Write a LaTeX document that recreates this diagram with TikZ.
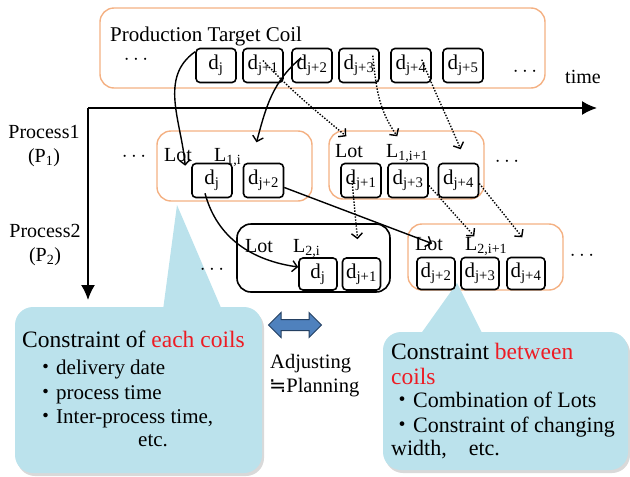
\documentclass[tikz,border=0pt]{standalone}
\usepackage{fontspec}
\setmainfont{Liberation Serif}
\newfontfamily\cjk{Noto Sans CJK JP}
\newfontfamily\symfont{DejaVu Sans}
\usetikzlibrary{arrows.meta,shapes.arrows,shadows}

\definecolor{lotorange}{RGB}{244,177,131}
\definecolor{callblue}{RGB}{187,226,236}
\definecolor{arrowblue}{RGB}{79,129,189}
\definecolor{arrowedge}{RGB}{36,64,98}
\definecolor{hired}{RGB}{237,28,36}

\tikzset{
  coil/.style={draw, line width=1.6pt, rounded corners=4pt, fill=white, inner sep=0pt,
    minimum width=40pt, minimum height=34pt, font=\fontsize{21}{21}\selectfont},
  smallcoil/.style={coil, minimum width=38pt, minimum height=32pt},
  lotbox/.style={draw=lotorange, line width=1.4pt, rounded corners=14pt, fill=white, inner sep=0pt},
  blacklot/.style={lotbox, draw=black, line width=1.6pt},
  flow/.style={-{Straight Barb[length=5pt,width=11pt]}, line width=1.4pt},
  dotflow/.style={flow, dash pattern=on 1.4pt off 1.6pt},
  axis/.style={-{Latex[length=15pt,width=14pt]}, line width=1.6pt},
  txt/.style={font=\fontsize{20}{24}\selectfont, inner sep=0pt},
  head/.style={font=\fontsize{23.5}{26}\selectfont, inner sep=0pt},
  item/.style={font=\fontsize{21}{24}\selectfont, inner sep=0pt},
  dots/.style={font=\fontsize{20}{20}\selectfont, inner sep=0pt},
  callout/.style={fill=callblue, rounded corners=18pt, inner sep=0pt,
    drop shadow={opacity=0.3, shadow xshift=2pt, shadow yshift=-3pt}}
}

\begin{document}
\begin{tikzpicture}[x=1pt, y=1pt]
  \useasboundingbox (0,0) rectangle (630,-477);

  % production target
  \node[lotbox, minimum width=445pt, minimum height=80pt] (target) at (322.5,-48) {};
  \node[txt, anchor=base west, font=\fontsize{21}{24}\selectfont] (targetlbl) at (110,-41) {Production Target Coil};

  % axes
  \coordinate (origin) at (88,-108);
  \coordinate (timeend) at (597,-108);
  \coordinate (procend) at (88,-300);
  \draw[axis] (origin) -- (timeend);
  \draw[axis] (origin) -- (procend);
  \node[txt, anchor=base west] (timelbl) at (565,-83) {time};
  \node[txt, align=center] (proc1) at (44,-146) {Process1\\(P\textsubscript{1})};
  \node[txt, align=center] (proc2) at (45,-245) {Process2\\(P\textsubscript{2})};

  % lots
  \node[lotbox, minimum width=155pt, minimum height=70pt] (lotA) at (234.5,-166) {};
  \node[lotbox, minimum width=155pt, minimum height=68pt] (lotB) at (406.5,-165) {};
  \node[blacklot, minimum width=153pt, minimum height=68pt] (lotC) at (313.5,-258) {};
  \node[lotbox, minimum width=155pt, minimum height=66pt] (lotD) at (485.5,-257) {};

  % callouts
  \node[callout, minimum width=247pt, minimum height=166pt] (callL) at (138.5,-390) {};
  \fill[callblue] (163,-310) -- (177,-205) -- (222,-310) -- cycle;
  \node[callout, minimum width=245pt, minimum height=138pt] (callR) at (505.5,-401) {};
  \fill[callblue] (420,-335) -- (457,-283) -- (483,-335) -- cycle;

  % coils
  \node[coil] (tj) at (216,-65.5) {d\textsubscript{j}};
  \node[coil] (tj1) at (263,-65.5) {d\textsubscript{j+1}};
  \node[coil] (tj2) at (312,-65.5) {d\textsubscript{j+2}};
  \node[coil] (tj3) at (359,-65.5) {d\textsubscript{j+3}};
  \node[coil] (tj4) at (411,-65.5) {d\textsubscript{j+4}};
  \node[coil] (tj5) at (463,-65.5) {d\textsubscript{j+5}};

  \node[coil] (pj) at (212,-180.5) {d\textsubscript{j}};
  \node[coil] (pj2) at (263.5,-180.5) {d\textsubscript{j+2}};
  \node[coil] (qj1) at (361,-180.5) {d\textsubscript{j+1}};
  \node[coil] (qj3) at (408,-180.5) {d\textsubscript{j+3}};
  \node[coil] (qj4) at (458.5,-180.5) {d\textsubscript{j+4}};

  \node[smallcoil] (rj) at (318,-274) {d\textsubscript{j}};
  \node[smallcoil] (rj1) at (361.5,-274) {d\textsubscript{j+1}};
  \node[smallcoil] (sj2) at (436,-273.5) {d\textsubscript{j+2}};
  \node[smallcoil] (sj3) at (480,-273.5) {d\textsubscript{j+3}};
  \node[smallcoil] (sj4) at (526,-273.5) {d\textsubscript{j+4}};

  % lot labels
  \node[txt, anchor=base west] (lotAlot) at (164,-161) {Lot};
  \node[txt, anchor=base west] (lotAname) at (214,-161) {L\textsubscript{1,i}};
  \node[txt, anchor=base west] (lotBlot) at (335,-157) {Lot};
  \node[txt, anchor=base west] (lotBname) at (386,-157) {L\textsubscript{1,i+1}};
  \node[txt, anchor=base west] (lotClot) at (245,-252) {Lot};
  \node[txt, anchor=base west] (lotCname) at (293,-252) {L\textsubscript{2,i}};
  \node[txt, anchor=base west] (lotDlot) at (415,-250) {Lot};
  \node[txt, anchor=base west] (lotDname) at (465,-250) {L\textsubscript{2,i+1}};

  \node[dots] (dotsT1) at (136,-60) {$\cdots$};
  \node[dots] (dotsT2) at (525,-72) {$\cdots$};
  \node[dots] (dotsA) at (134,-157) {$\cdots$};
  \node[dots] (dotsB) at (507,-162) {$\cdots$};
  \node[dots] (dotsC) at (212,-270) {$\cdots$};
  \node[dots] (dotsD) at (582,-256) {$\cdots$};

  % callout texts
  \node[head, anchor=base west] (callLhead) at (22,-347) {Constraint of \textcolor{hired}{each coils}};
  \node[item, anchor=base west] (callL1) at (35,-374) {{\cjk ・}delivery date};
  \node[item, anchor=base west] (callL2) at (35,-399) {{\cjk ・}process time};
  \node[item, anchor=base west] (callL3) at (35,-423) {{\cjk ・}Inter-process time,};
  \node[item, anchor=base west] (callL4) at (138,-446) {etc.};

  \node[head, anchor=base west] (callRhead) at (391,-359) {Constraint \textcolor{hired}{between}};
  \node[head, anchor=base west] (callRhead2) at (391,-384) {\textcolor{hired}{coils}};
  \node[item, anchor=base west, font=\fontsize{22}{24}\selectfont] (callR1) at (391,-407) {{\cjk ・}Combination of Lots};
  \node[item, anchor=base west, font=\fontsize{22}{24}\selectfont] (callR2) at (391,-432) {{\cjk ・}Constraint of changing};
  \node[item, anchor=base west, font=\fontsize{22}{24}\selectfont] (callR3) at (391,-455) {width,\hspace{22pt}etc.};

  % adjusting
  \node[double arrow, fill=arrowblue, draw=arrowedge, line width=1pt, inner sep=5pt,
    minimum height=53pt, minimum width=25pt, double arrow head extend=7pt] (adjarrow) at (295,-325) {};
  \node[txt, anchor=base west, font=\fontsize{20.5}{24}\selectfont] (adj1) at (270,-368) {Adjusting};
  \node[txt, anchor=base west, font=\fontsize{20.5}{24}\selectfont] (adj2) at (269,-392) {{\symfont ≒}Planning};

  % flows
  \draw[flow] ([yshift=-4pt]tj.north west) to[out=215, in=95] ([xshift=-6pt,yshift=-3pt]pj.north west);
  \draw[flow] ([xshift=10pt,yshift=-10pt]tj2.north west) to[out=220, in=75] ([xshift=22pt,yshift=-12pt]lotA.north);
  \draw[flow] ([yshift=-7pt]pj2.east) -- ([xshift=3pt]lotDlot.center);
  \draw[flow] ([xshift=-7pt,yshift=5pt]pj.south) to[out=-75, in=172] ([yshift=7pt]rj.west);

  \draw[dotflow] ([yshift=5pt]tj1.center) to[out=-47, in=140] ([xshift=18pt,yshift=-6pt]lotB.north west);
  \draw[dotflow] ([xshift=-7pt,yshift=-8pt]tj3.north east) to[out=-84, in=125] ([xshift=69pt,yshift=-6pt]lotB.north west);
  \draw[dotflow] ([xshift=-10pt,yshift=-12pt]tj4.north east) to[out=-68, in=113] ([xshift=-24pt,yshift=-19pt]lotB.north east);
  \draw[dotflow] ([xshift=-9pt]qj1.center) -- ([xshift=44pt,yshift=-16pt]lotC.north);
  \draw[dotflow] ([yshift=-5pt]qj3.east) -- ([xshift=67pt,yshift=-13pt]lotD.north west);
  \draw[dotflow] ([yshift=-3pt]qj4.east) -- ([xshift=115pt,yshift=-14pt]lotD.north west);
\end{tikzpicture}
\end{document}
